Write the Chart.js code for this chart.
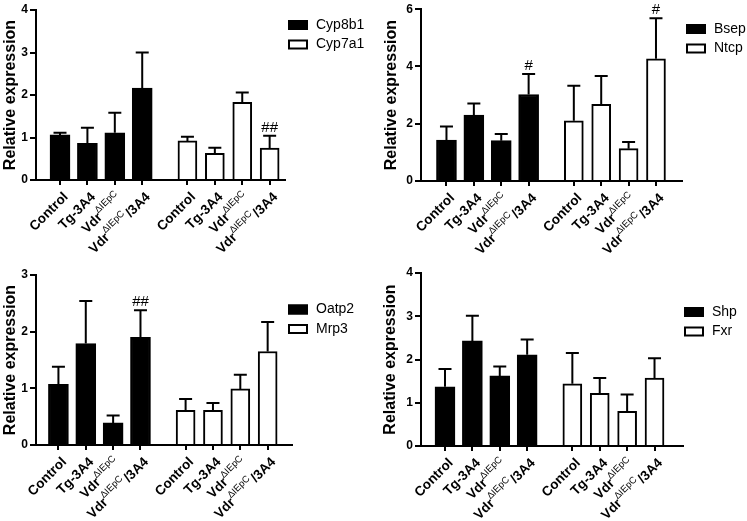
<!DOCTYPE html>
<html>
<head>
<meta charset="utf-8">
<title>Relative expression</title>
<script src="https://cdn.jsdelivr.net/npm/chart.js@4.4.1/dist/chart.umd.min.js"></script>
<style>
  html, body { margin: 0; padding: 0; background: #fff; }
  #wrap { position: relative; width: 747px; height: 521px; overflow: hidden; }
  canvas { position: absolute; }
</style>
</head>
<body>
<div id="wrap">
  <canvas id="c1" width="373" height="260" style="left:0;top:0"></canvas>
  <canvas id="c2" width="374" height="260" style="left:373px;top:0"></canvas>
  <canvas id="c3" width="373" height="261" style="left:0;top:260px"></canvas>
  <canvas id="c4" width="374" height="261" style="left:373px;top:260px"></canvas>
</div>
<script>
// x categories, text in {} is drawn as superscript
const groups = ["Control", "Tg-3A4", "Vdr{ΔIEpC}", "Vdr{ΔIEpC}/3A4"];
// bar slots: 4 filled then 4 open, with a wider gap between the two sets
const xSlots = [0, 1, 2, 3, 4.65, 5.65, 6.65, 7.65];

// top left
const cyp8b1 = [1.06, 0.86, 1.11, 2.16];
const cyp8b1Err = [0.05, 0.37, 0.47, 0.84];
const cyp7a1 = [0.92, 0.63, 1.83, 0.75];
const cyp7a1Err = [0.10, 0.13, 0.23, 0.29];
const cypMarks = ["", "", "", "", "", "", "", "##"];

// top right
const bsep = [1.43, 2.30, 1.41, 3.02];
const bsepErr = [0.47, 0.41, 0.23, 0.72];
const ntcp = [2.10, 2.68, 1.13, 4.27];
const ntcpErr = [1.23, 0.99, 0.23, 1.41];
const transMarks = ["", "", "", "#", "", "", "", "#"];

// bottom left
const oatp2 = [1.07, 1.79, 0.39, 1.90];
const oatp2Err = [0.31, 0.75, 0.13, 0.48];
const mrp3 = [0.61, 0.61, 0.99, 1.65];
const mrp3Err = [0.20, 0.13, 0.25, 0.52];
const oatpMarks = ["", "", "", "##", "", "", "", ""];

// bottom right
const shp = [1.37, 2.43, 1.62, 2.11];
const shpErr = [0.41, 0.58, 0.22, 0.35];
const fxr = [1.44, 1.22, 0.80, 1.57];
const fxrErr = [0.71, 0.35, 0.39, 0.46];
const shpMarks = ["", "", "", "", "", "", "", ""];

const FONT = '"Liberation Sans", Arial, sans-serif';

function drawTickLabel(ctx, x, y, label) {
  const parts = label.split(/[{}]/)
    .map((t, i) => ({ t, sup: i % 2 === 1 }))
    .filter((p) => p.t);
  const fontOf = (p) => (p.sup ? `9.5px ${FONT}` : `bold 13.5px ${FONT}`);
  let total = 0;
  parts.forEach((p) => {
    ctx.font = fontOf(p);
    p.w = ctx.measureText(p.t).width + (p.sup ? 1.5 : 0);
    total += p.w;
  });
  ctx.save();
  ctx.translate(x, y);
  ctx.rotate(-Math.PI / 4);
  ctx.textBaseline = "middle";
  ctx.textAlign = "left";
  ctx.fillStyle = "#000";
  let cx = -total;
  parts.forEach((p) => {
    ctx.font = fontOf(p);
    ctx.fillText(p.t, cx, p.sup ? -5.5 : 0);
    cx += p.w;
  });
  ctx.restore();
}

function makePanel(id, p) {
  const errs = [p.errA, p.errB];

  const extras = {
    id: "extras",
    afterDatasetsDraw(chart) {
      const { ctx } = chart;
      const x = chart.scales.x;
      const y = chart.scales.y;
      ctx.save();
      ctx.strokeStyle = "#000";
      ctx.lineWidth = 2;
      chart.data.datasets.forEach((ds, di) => {
        ds.data.forEach((pt, i) => {
          const px = x.getPixelForValue(pt.x);
          const y0 = y.getPixelForValue(pt.y);
          const y1 = y.getPixelForValue(pt.y + errs[di][i]);
          ctx.beginPath();
          ctx.moveTo(px, y0);
          ctx.lineTo(px, y1);
          ctx.moveTo(px - 6.5, y1);
          ctx.lineTo(px + 6.5, y1);
          ctx.stroke();

          const mark = p.marks[di * 4 + i];
          if (mark) {
            ctx.fillStyle = "#000";
            ctx.font = `15px ${FONT}`;
            ctx.textAlign = "center";
            ctx.textBaseline = "alphabetic";
            ctx.fillText(mark, px, y1 - 4);
          }
        });
      });
      ctx.restore();
    },
    afterDraw(chart) {
      const { ctx } = chart;
      const x = chart.scales.x;
      xSlots.forEach((v, i) => {
        drawTickLabel(ctx, x.getPixelForValue(v) + 6, x.top + 15, groups[i % 4]);
      });

      // legend
      ctx.save();
      p.names.forEach((name, i) => {
        const cy = p.legend.y + i * 19.5;
        ctx.fillStyle = i === 0 ? "#000" : "#fff";
        ctx.fillRect(p.legend.x, cy - 5, 20, 10);
        ctx.strokeStyle = "#000";
        ctx.lineWidth = 2;
        ctx.strokeRect(p.legend.x + 1, cy - 4, 18, 8);
        ctx.fillStyle = "#000";
        ctx.font = `14px ${FONT}`;
        ctx.textAlign = "left";
        ctx.textBaseline = "middle";
        ctx.fillText(name, p.legend.x + 28, cy);
      });
      ctx.restore();
    },
  };

  return new Chart(document.getElementById(id), {
    type: "bar",
    data: {
      datasets: [
        {
          label: p.names[0],
          data: p.a.map((v, i) => ({ x: xSlots[i], y: v })),
          backgroundColor: "#000",
          borderColor: "#000",
          borderWidth: 2,
          barThickness: 20,
          grouped: false,
        },
        {
          label: p.names[1],
          data: p.b.map((v, i) => ({ x: xSlots[i + 4], y: v })),
          backgroundColor: "#fff",
          borderColor: "#000",
          borderWidth: 2,
          barThickness: 19,
          grouped: false,
        },
      ],
    },
    options: {
      responsive: false,
      animation: false,
      layout: {
        autoPadding: false,
        padding: { left: p.pad[0], top: p.pad[1], right: p.pad[2], bottom: p.pad[3] },
      },
      plugins: { legend: { display: false }, tooltip: { enabled: false } },
      scales: {
        x: {
          type: "linear",
          min: p.xMin,
          max: p.xMax,
          offset: false,
          afterBuildTicks: (s) => {
            s.ticks = xSlots.map((v) => ({ value: v }));
          },
          afterFit: (s) => {
            s.height = 40;
          },
          ticks: { display: false },
          grid: { drawOnChartArea: false, drawTicks: true, tickLength: 5, color: "#000", lineWidth: 2, offset: false },
          border: { display: true, color: "#000", width: 2 },
        },
        y: {
          min: 0,
          max: p.yMax,
          afterFit: (s) => {
            s.width = p.yWidth;
          },
          ticks: { stepSize: p.yStep, color: "#000", padding: 2, font: { family: FONT, size: 12, weight: "bold" } },
          grid: { drawOnChartArea: false, drawTicks: true, tickLength: 6, color: "#000", lineWidth: 2 },
          border: { display: true, color: "#000", width: 2 },
          title: {
            display: true,
            text: "Relative expression",
            color: "#000",
            padding: 0,
            font: { family: FONT, size: 16, weight: "bold" },
          },
        },
      },
    },
    plugins: [extras],
  });
}

makePanel("c1", {
  names: ["Cyp8b1", "Cyp7a1"],
  a: cyp8b1, errA: cyp8b1Err, b: cyp7a1, errB: cyp7a1Err, marks: cypMarks,
  yMax: 4, yStep: 1, yWidth: 35, pad: [1, 10, 88, 40],
  xMin: -0.876, xMax: 8.21,
  legend: { x: 288, y: 25 },
});

makePanel("c2", {
  names: ["Bsep", "Ntcp"],
  a: bsep, errA: bsepErr, b: ntcp, errB: ntcpErr, marks: transMarks,
  yMax: 6, yStep: 2, yWidth: 39, pad: [9, 7, 65, 39],
  xMin: -0.93, xMax: 8.6,
  legend: { x: 313, y: 29 },
});

makePanel("c3", {
  names: ["Oatp2", "Mrp3"],
  a: oatp2, errA: oatp2Err, b: mrp3, errB: mrp3Err, marks: oatpMarks,
  yMax: 3, yStep: 1, yWidth: 35, pad: [1, 15, 81, 36],
  xMin: -0.82, xMax: 8.54,
  legend: { x: 288, y: 49.5 },
});

makePanel("c4", {
  names: ["Shp", "Fxr"],
  a: shp, errA: shpErr, b: fxr, errB: fxrErr, marks: shpMarks,
  yMax: 4, yStep: 1, yWidth: 40, pad: [8, 13, 64, 35],
  xMin: -0.876, xMax: 8.69,
  legend: { x: 311, y: 52 },
});
</script>
</body>
</html>
